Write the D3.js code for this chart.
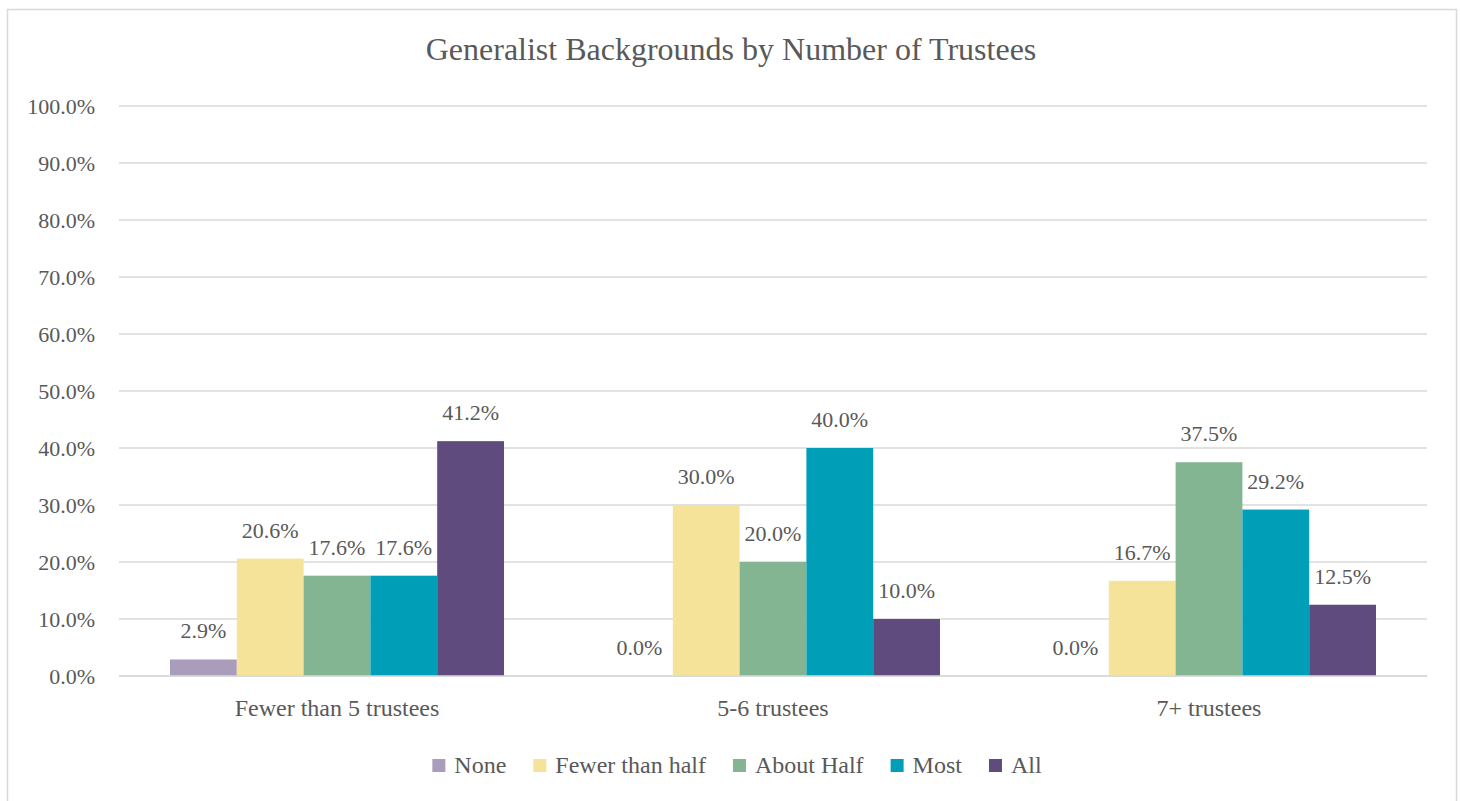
<!DOCTYPE html>
<html>
<head>
<meta charset="utf-8">
<script src="https://cdn.jsdelivr.net/npm/d3@7"></script>
<style>
  body { margin: 0; background: #fff; }
  text { font-family: "Liberation Serif", "DejaVu Serif", serif; fill: #595959; }
</style>
</head>
<body>
<div id="chart"></div>
<script>
const categories = ["Fewer than 5 trustees", "5-6 trustees", "7+ trustees"];
const seriesNames = ["None", "Fewer than half", "About Half", "Most", "All"];
const noneVals = [2.9, 0.0, 0.0];
const fewerVals = [20.6, 30.0, 16.7];
const aboutHalfVals = [17.6, 20.0, 37.5];
const mostVals = [17.6, 40.0, 29.2];
const allVals = [41.2, 10.0, 12.5];
const yTicks = [0, 10, 20, 30, 40, 50, 60, 70, 80, 90, 100];
const colors = ["#a99dbb", "#f6e39a", "#84b592", "#019eb8", "#5f4b7d"];

const series = [noneVals, fewerVals, aboutHalfVals, mostVals, allVals];

const W = 1460, H = 801;
const svg = d3.select("#chart").append("svg")
  .attr("width", W).attr("height", H);

svg.append("rect")
  .attr("x", 7.5).attr("y", 9.5)
  .attr("width", 1449).attr("height", 800)
  .attr("fill", "#fff").attr("stroke", "#d9d9d9").attr("stroke-width", 1.5);

svg.append("text")
  .attr("x", 731).attr("y", 60)
  .attr("text-anchor", "middle")
  .style("font-size", "32px")
  .text("Generalist Backgrounds by Number of Trustees");

const x0 = d3.scaleBand().domain(categories).range([119, 1427]).paddingInner(0.234).paddingOuter(0.117);
const x1 = d3.scaleBand().domain(seriesNames).range([0, x0.bandwidth()]);
const y = d3.scaleLinear().domain([0, 100]).range([676, 106]);

// grid
svg.append("g").selectAll("line")
  .data(yTicks)
  .join("line")
    .attr("x1", 119).attr("x2", 1427)
    .attr("y1", d => y(d)).attr("y2", d => y(d))
    .attr("stroke", "#d9d9d9").attr("stroke-width", 1.5);

svg.append("g").selectAll("text")
  .data(yTicks)
  .join("text")
    .attr("x", 95).attr("y", d => y(d))
    .attr("dy", "0.35em")
    .attr("text-anchor", "end")
    .style("font-size", "22px")
    .text(d => d.toFixed(1) + "%");

const groups = svg.append("g").selectAll("g")
  .data(categories)
  .join("g")
    .attr("transform", d => `translate(${x0(d)},0)`);

groups.selectAll("rect")
  .data((c, ci) => seriesNames.map((s, si) => ({ s, v: series[si][ci], color: colors[si] })))
  .join("rect")
    .attr("x", d => x1(d.s))
    .attr("y", d => y(d.v))
    .attr("width", x1.bandwidth())
    .attr("height", d => y(0) - y(d.v))
    .attr("fill", d => d.color);

groups.selectAll("text.lbl")
  .data((c, ci) => seriesNames.map((s, si) => ({ s, v: series[si][ci] })))
  .join("text")
    .attr("class", "lbl")
    .attr("x", d => x1(d.s) + x1.bandwidth() / 2)
    .attr("y", d => y(d.v) - 21)
    .attr("text-anchor", "middle")
    .style("font-size", "22px")
    .text(d => d.v.toFixed(1) + "%");

// x axis line on top of bars
svg.append("line")
  .attr("x1", 119).attr("x2", 1427)
  .attr("y1", y(0)).attr("y2", y(0))
  .attr("stroke", "#d9d9d9").attr("stroke-width", 1.5);

svg.append("g").selectAll("text")
  .data(categories)
  .join("text")
    .attr("x", d => x0(d) + x0.bandwidth() / 2)
    .attr("y", 716)
    .attr("text-anchor", "middle")
    .style("font-size", "24px")
    .text(d => d);

// legend
const legend = svg.append("g").attr("transform", "translate(0,765)");
const items = legend.selectAll("g")
  .data(seriesNames)
  .join("g");
items.append("rect")
  .attr("y", -6).attr("width", 13).attr("height", 13)
  .attr("fill", (d, i) => colors[i]);
items.append("text")
  .attr("x", 22).attr("y", 0).attr("dy", "0.35em")
  .style("font-size", "24px")
  .text(d => d);
let widths = [];
items.each(function() { widths.push(13 + 9 + d3.select(this).select("text").node().getComputedTextLength()); });
const gap = 27;
const total = d3.sum(widths) + gap * (widths.length - 1);
let cx = 737 - total / 2;
items.attr("transform", (d, i) => {
  const t = `translate(${cx},0)`;
  cx += widths[i] + gap;
  return t;
});
</script>
</body>
</html>
